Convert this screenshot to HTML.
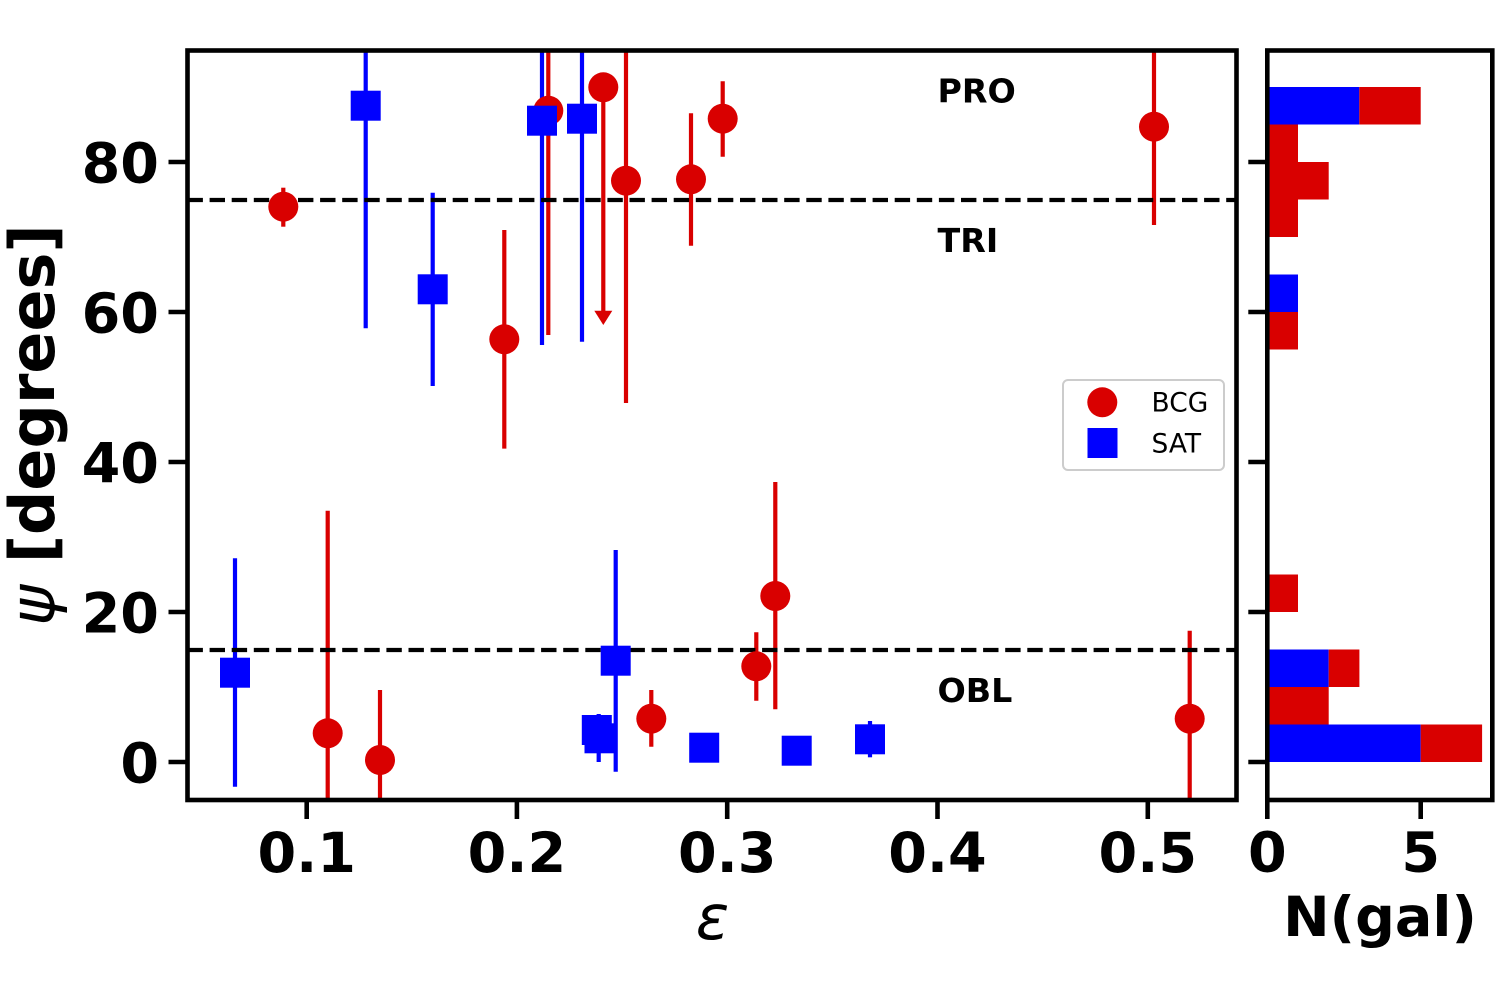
<!DOCTYPE html>
<html>
<head>
<meta charset="utf-8">
<style>
html,body{margin:0;padding:0;background:#fff;}
svg{display:block;}
text{font-family:"DejaVu Sans","Liberation Sans",sans-serif;}
</style>
</head>
<body>
<svg width="1500" height="1000" viewBox="0 0 1500 1000" xmlns="http://www.w3.org/2000/svg">
<defs>
<clipPath id="cm"><rect x="187.5" y="50.5" width="1049" height="749.5"/></clipPath>
</defs>
<rect x="0" y="0" width="1500" height="1000" fill="#fff"/>

<g clip-path="url(#cm)">
  <!-- BCG error bars -->
  <g stroke="#d90000" stroke-width="4.2" fill="none">
    <line x1="283.3" y1="187.7" x2="283.3" y2="226.7"/>
    <line x1="327.7" y1="510.7" x2="327.7" y2="956"/>
    <line x1="380" y1="690" x2="380" y2="830"/>
    <line x1="504.3" y1="230" x2="504.3" y2="448.6"/>
    <line x1="548.3" y1="-114" x2="548.3" y2="335"/>
    <line x1="603.3" y1="87.3" x2="603.3" y2="318"/>
    <line x1="626" y1="-42" x2="626" y2="403"/>
    <line x1="691" y1="113.3" x2="691" y2="245.7"/>
    <line x1="722.7" y1="81.3" x2="722.7" y2="156.7"/>
    <line x1="651.3" y1="690" x2="651.3" y2="746.7"/>
    <line x1="756.3" y1="632.3" x2="756.3" y2="700.7"/>
    <line x1="775.3" y1="482" x2="775.3" y2="709.3"/>
    <line x1="1154" y1="28" x2="1154" y2="225"/>
    <line x1="1189.7" y1="630.7" x2="1189.7" y2="806"/>
  </g>
  <polygon points="594.3,310.7 612.3,310.7 603.3,325" fill="#d90000"/>
  <!-- SAT error bars -->
  <g stroke="#0000ff" stroke-width="4.2" fill="none">
    <line x1="365.7" y1="-117" x2="365.7" y2="328.3"/>
    <line x1="432.7" y1="192.7" x2="432.7" y2="386"/>
    <line x1="542" y1="-103" x2="542" y2="345"/>
    <line x1="582" y1="-104" x2="582" y2="341.7"/>
    <line x1="235" y1="558.3" x2="235" y2="786.7"/>
    <line x1="615.7" y1="550" x2="615.7" y2="771.7"/>
    <line x1="598.7" y1="714" x2="598.7" y2="762"/>
    <line x1="870" y1="721" x2="870" y2="757.3"/>
  </g>
  <!-- dashed lines -->
  <g stroke="#000" stroke-width="4.2" stroke-dasharray="15.4 6.7">
    <line x1="187.5" y1="200" x2="1236.5" y2="200"/>
    <line x1="187.5" y1="650" x2="1236.5" y2="650"/>
  </g>
  <!-- BCG markers -->
  <g fill="#d90000">
    <circle cx="283.3" cy="206.7" r="15"/>
    <circle cx="327.7" cy="733.3" r="15"/>
    <circle cx="380" cy="760" r="15"/>
    <circle cx="504.3" cy="339.3" r="15"/>
    <circle cx="548.3" cy="110.7" r="15"/>
    <circle cx="603.3" cy="87.3" r="15"/>
    <circle cx="626" cy="180.7" r="15"/>
    <circle cx="691" cy="179.3" r="15"/>
    <circle cx="722.7" cy="118.7" r="15"/>
    <circle cx="651.3" cy="718.7" r="15"/>
    <circle cx="756.3" cy="666.3" r="15"/>
    <circle cx="775.3" cy="596" r="15"/>
    <circle cx="1154" cy="126.7" r="15"/>
    <circle cx="1189.7" cy="718.7" r="15"/>
  </g>
  <!-- SAT markers -->
  <g fill="#0000ff">
    <rect x="350.7" y="90.7" width="30" height="30"/>
    <rect x="417.7" y="274.3" width="30" height="30"/>
    <rect x="527" y="105.7" width="30" height="30"/>
    <rect x="567" y="103.7" width="30" height="30"/>
    <rect x="220" y="657.7" width="30" height="30"/>
    <rect x="600.7" y="645.7" width="30" height="30"/>
    <rect x="581.8" y="715" width="30" height="30"/>
    <rect x="584.5" y="723.3" width="30" height="30"/>
    <rect x="689.2" y="732.7" width="30" height="30"/>
    <rect x="781.7" y="735.7" width="30" height="30"/>
    <rect x="855" y="724.3" width="30" height="30"/>
  </g>
</g>

<!-- region labels -->
<g font-weight="bold" font-size="33.3" fill="#000">
  <text x="937.5" y="102.7">PRO</text>
  <text x="937.5" y="252">TRI</text>
  <text x="937.5" y="702">OBL</text>
</g>

<!-- legend -->
<rect x="1063" y="380" width="161" height="90" rx="5" ry="5" fill="#fff" fill-opacity="0.8" stroke="#cccccc" stroke-width="2"/>
<circle cx="1102.3" cy="402.3" r="15" fill="#d90000"/>
<rect x="1087.5" y="428" width="30" height="30" fill="#0000ff"/>
<text x="1151.5" y="411.7" font-size="26.5" fill="#000">BCG</text>
<text x="1151.5" y="452.7" font-size="26.5" fill="#000">SAT</text>

<!-- main axes spines -->
<rect x="187.5" y="50.5" width="1049" height="749.5" fill="none" stroke="#000" stroke-width="4.6"/>
<!-- main ticks -->
<g stroke="#000" stroke-width="4.6">
  <line x1="306.7" y1="800" x2="306.7" y2="819"/>
  <line x1="516.9" y1="800" x2="516.9" y2="819"/>
  <line x1="727.2" y1="800" x2="727.2" y2="819"/>
  <line x1="937.5" y1="800" x2="937.5" y2="819"/>
  <line x1="1147.8" y1="800" x2="1147.8" y2="819"/>
  <line x1="168.5" y1="762" x2="187.5" y2="762"/>
  <line x1="168.5" y1="612" x2="187.5" y2="612"/>
  <line x1="168.5" y1="462" x2="187.5" y2="462"/>
  <line x1="168.5" y1="312" x2="187.5" y2="312"/>
  <line x1="168.5" y1="162" x2="187.5" y2="162"/>
</g>
<g font-weight="bold" font-size="55.6" fill="#000" text-anchor="middle">
  <text x="306.7" y="872">0.1</text>
  <text x="516.9" y="872">0.2</text>
  <text x="727.2" y="872">0.3</text>
  <text x="937.5" y="872">0.4</text>
  <text x="1147.8" y="872">0.5</text>
</g>
<g font-weight="bold" font-size="55.6" fill="#000" text-anchor="end">
  <text x="159" y="782.3">0</text>
  <text x="159" y="632.3">20</text>
  <text x="159" y="482.3">40</text>
  <text x="159" y="332.3">60</text>
  <text x="159" y="182.3">80</text>
</g>
<text x="712.5" y="939" font-size="62" font-style="italic" text-anchor="middle" fill="#000">ε</text>
<text transform="translate(54,425) rotate(-90)" font-size="62" text-anchor="middle" fill="#000"><tspan font-style="italic">ψ</tspan><tspan font-weight="bold"> [degrees]</tspan></text>

<!-- histogram bars -->
<g>
  <rect x="1267.3" y="87" width="92" height="37.5" fill="#0000ff"/>
  <rect x="1359.3" y="87" width="61.4" height="37.5" fill="#d90000"/>
  <rect x="1267.3" y="124.5" width="30.7" height="37.5" fill="#d90000"/>
  <rect x="1267.3" y="162" width="61.4" height="37.5" fill="#d90000"/>
  <rect x="1267.3" y="199.5" width="30.7" height="37.5" fill="#d90000"/>
  <rect x="1267.3" y="274.5" width="30.7" height="37.5" fill="#0000ff"/>
  <rect x="1267.3" y="312" width="30.7" height="37.5" fill="#d90000"/>
  <rect x="1267.3" y="574.5" width="30.7" height="37.5" fill="#d90000"/>
  <rect x="1267.3" y="649.5" width="61.4" height="37.5" fill="#0000ff"/>
  <rect x="1328.7" y="649.5" width="30.7" height="37.5" fill="#d90000"/>
  <rect x="1267.3" y="687" width="61.4" height="37.5" fill="#d90000"/>
  <rect x="1267.3" y="724.5" width="153.4" height="37.5" fill="#0000ff"/>
  <rect x="1420.7" y="724.5" width="61.4" height="37.5" fill="#d90000"/>
</g>
<!-- hist spines -->
<rect x="1267.3" y="50.5" width="225" height="749.5" fill="none" stroke="#000" stroke-width="4.6"/>
<g stroke="#000" stroke-width="4.6">
  <line x1="1248.3" y1="762" x2="1267.3" y2="762"/>
  <line x1="1248.3" y1="612" x2="1267.3" y2="612"/>
  <line x1="1248.3" y1="462" x2="1267.3" y2="462"/>
  <line x1="1248.3" y1="312" x2="1267.3" y2="312"/>
  <line x1="1248.3" y1="162" x2="1267.3" y2="162"/>
  <line x1="1267.3" y1="800" x2="1267.3" y2="819"/>
  <line x1="1420.7" y1="800" x2="1420.7" y2="819"/>
</g>
<g font-weight="bold" font-size="55.6" fill="#000" text-anchor="middle">
  <text x="1267.3" y="871.7">0</text>
  <text x="1420.7" y="871.7">5</text>
  <text x="1380" y="936">N(gal)</text>
</g>
</svg>
</body>
</html>
